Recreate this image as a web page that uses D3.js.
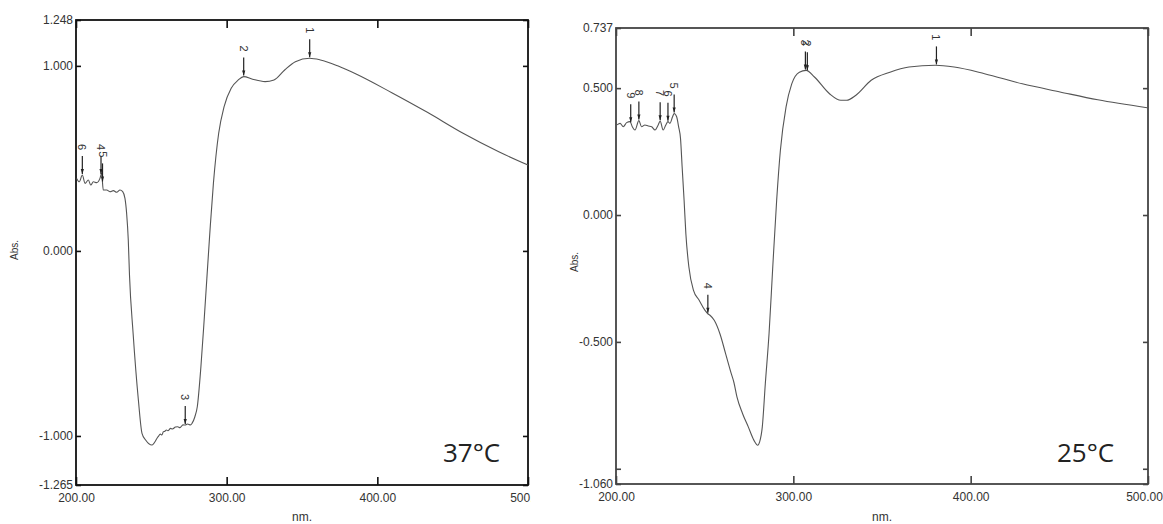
<!DOCTYPE html>
<html>
<head>
<meta charset="utf-8">
<script src="https://cdn.jsdelivr.net/npm/d3@7"></script>
<style>
  body { margin: 0; background: #fff; }
  svg { display: block; }
  .tick text { font-family: "Liberation Sans Narrow", "Liberation Sans", Arial, sans-serif; font-size: 12px; fill: #333; }
</style>
</head>
<body>
<svg id="chart" width="1163" height="524"></svg>
<script>
// 37°C spectrum (nm, Abs.)
var nm37  = [200.4,202.2,204.2,206,208.2,209.8,211.5,213.7,215.9,217,218.1,220.4,222.6,224.8,227,229.2,231,232.5,233.6,234.7,
             235.5,237.9,241.4,243.8,246.2,250.4,254.5,256,257,258,259,260,261,262.8,264,266,267.5,269,271,272.5,274,276,277,278.9,280.5,282.9,285.2,
             288.8,291.2,294.7,298.3,303,307.7,311.3,317.2,325.5,331.4,338.5,345.6,355.1,362.2,374,385.9,409.6,433.2,456.9,480.6,500];
var abs37 = [0.392,0.374,0.41,0.365,0.383,0.356,0.374,0.369,0.392,0.42,0.329,0.329,0.32,0.326,0.317,0.329,0.32,0.284,0.203,0.059,
             -0.13,-0.445,-0.806,-0.986,-1.022,-1.049,-1.004,-0.99,-0.995,-0.977,-0.975,-0.968,-0.972,-0.959,-0.962,-0.952,-0.95,-0.955,-0.94,-0.941,-0.935,-0.94,-0.932,-0.896,-0.842,-0.626,-0.356,
             0.095,0.365,0.636,0.78,0.879,0.924,0.942,0.928,0.915,0.924,0.978,1.023,1.041,1.032,0.999,0.956,0.855,0.749,0.636,0.536,0.464];
var peaks37 = [355.1, 311.3, 272.5, 216.6, 217.6, 204.2];
var peakLabels37 = ["1", "2", "3", "4", "5", "6"];
var yTicks37 = [-1.265, -1, 0, 1, 1.248];

// 25°C spectrum (nm, Abs.)
var nm25  = [200.6,202.3,204.1,206,207.9,209.2,210.7,212.9,214.4,216.3,218.2,220.1,222,223.8,224.9,226.6,228.1,229.3,230.4,231.9,232.8,234.2,235.3,
             236.4,237.3,238.4,239.4,241.1,243.7,246.9,250.1,251.8,253,255.4,258.6,261.8,265,266.5,268.2,271.4,274.6,277.8,279.9,281,282.5,284.2,286.3,288.4,290.6,
             292.7,295.9,299.1,303.4,307.2,311.9,320.4,326.8,330,335.3,343.9,354.5,365.2,380.1,390.7,407.8,429.1,450.4,471.7,499.5];
var abs25 = [0.355,0.361,0.348,0.364,0.368,0.348,0.335,0.372,0.348,0.355,0.351,0.348,0.335,0.355,0.37,0.335,0.355,0.368,0.361,0.387,0.4,0.387,0.348,
             0.3,0.189,0.058,-0.074,-0.205,-0.297,-0.336,-0.375,-0.389,-0.395,-0.415,-0.468,-0.546,-0.625,-0.66,-0.717,-0.783,-0.835,-0.888,-0.907,-0.894,-0.835,-0.665,-0.468,-0.205,0.058,
             0.255,0.426,0.517,0.563,0.57,0.544,0.478,0.452,0.452,0.472,0.531,0.563,0.583,0.59,0.583,0.557,0.517,0.485,0.454,0.423];
var peaks25 = [380.7, 307.9, 306.8, 251.8, 232.8, 229.3, 224.9, 212.9, 208.3];
var peakLabels25 = ["1", "2", "3", "4", "5", "6", "7", "8", "9"];
var yTicks25 = [-1.06, -1, -0.5, 0, 0.5, 0.737];

var xTicks = [200, 300, 400, 500];

var svg = d3.select("#chart");

function interp(xs, ys, v) {
  var i = d3.bisectLeft(xs, v);
  if (i <= 0) return ys[0];
  if (i >= xs.length) return ys[ys.length - 1];
  var t = (v - xs[i-1]) / (xs[i] - xs[i-1]);
  return ys[i-1] + t * (ys[i] - ys[i-1]);
}

function panel(o) {
  var x = d3.scaleLinear().domain([200, 500]).range(o.xr);
  var y = d3.scaleLinear().domain(o.yd).range(o.yr);
  var g = svg.append("g");
  if (o.clip) {
    svg.append("clipPath").attr("id", o.clip)
      .append("rect").attr("x", 0).attr("y", 0).attr("width", o.clipW).attr("height", 524);
    g.attr("clip-path", "url(#" + o.clip + ")");
  }
  var fmtY = function(d) { return d === -1 && o.hideMinus1 ? "" : d.toFixed(3); };

  g.append("g").attr("transform", "translate(" + o.xr[0] + ",0)")
    .call(d3.axisLeft(y).tickValues(o.yt).tickSize(-5).tickPadding(3).tickFormat(fmtY));
  g.append("g").attr("transform", "translate(" + o.xr[1] + ",0)")
    .call(d3.axisRight(y).tickValues(o.yt).tickSize(-5).tickFormat(""));
  var xb = g.append("g").attr("transform", "translate(0," + o.yr[0] + ")")
    .call(d3.axisBottom(x).tickValues(xTicks).tickSize(-8).tickPadding(8).tickFormat(d3.format(".2f")));
  g.append("g").attr("transform", "translate(0," + o.yr[1] + ")")
    .call(d3.axisTop(x).tickValues(xTicks).tickSize(-8).tickFormat(""));
  if (o.lastShift) xb.selectAll(".tick text").filter(function(d) { return d === 500; }).attr("dx", o.lastShift);
  g.selectAll(".domain").remove();
  g.selectAll(".tick line").attr("stroke", o.frame).attr("stroke-width", 1.6);

  g.append("rect")
    .attr("x", o.xr[0]).attr("y", o.yr[1])
    .attr("width", o.xr[1] - o.xr[0]).attr("height", o.yr[0] - o.yr[1])
    .attr("fill", "none").attr("stroke", o.frame).attr("stroke-width", 1.8);

  var pts = o.nm.map(function(d, i) { return [d, o.ab[i]]; });
  g.append("path").datum(pts)
    .attr("fill", "none").attr("stroke", "#555").attr("stroke-width", 1.1)
    .attr("d", d3.line().x(function(d) { return x(d[0]); }).y(function(d) { return y(d[1]); }).curve(d3.curveMonotoneX));

  // peak pick markers
  o.peaks.forEach(function(p, i) {
    var px = x(p), py = y(interp(o.nm, o.ab, p)) - 1;
    g.append("line").attr("x1", px).attr("x2", px).attr("y1", py - 18).attr("y2", py)
      .attr("stroke", "#222").attr("stroke-width", 1.2);
    g.append("path").attr("d", "M" + (px - 1.6) + "," + (py - 5) + "L" + (px + 1.6) + "," + (py - 5) + "L" + px + "," + py + "Z")
      .attr("fill", "#222");
    g.append("text").attr("transform", "translate(" + (px - 4) + "," + (py - 27) + ") rotate(90)")
      .attr("text-anchor", "middle")
      .style("font-family", "Liberation Sans, Arial, sans-serif").style("font-size", "11px").attr("fill", "#333")
      .text(o.labels[i]);
  });

  var midX = (o.xr[0] + o.xr[1]) / 2;
  g.append("text").attr("x", midX).attr("y", 521).attr("text-anchor", "middle")
    .style("font-family", "Liberation Sans Narrow, Liberation Sans, sans-serif").style("font-size", "12px").attr("fill", "#333")
    .text("nm.");
  svg.append("text").attr("transform", "translate(" + o.absX + "," + o.absY + ") rotate(-90)")
    .attr("text-anchor", "middle")
    .style("font-family", "Liberation Sans, Arial, sans-serif").style("font-size", "10px").attr("fill", "#333")
    .text("Abs.");
  svg.append("text").attr("x", o.tempX).attr("y", 462)
    .style("font-family", "Open Sans, Noto Sans, sans-serif").style("font-size", "26px").attr("fill", "#222")
    .text(o.temp);
}

panel({ nm: nm37, ab: abs37, peaks: peaks37, labels: peakLabels37, yt: yTicks37,
        xr: [76, 528], yd: [-1.265, 1.248], yr: [485, 20], frame: "#111",
        clip: "clipL", clipW: 531, absX: 18, absY: 250, tempX: 443, temp: "37°C" });
panel({ nm: nm25, ab: abs25, peaks: peaks25, labels: peakLabels25, yt: yTicks25,
        xr: [616, 1148], yd: [-1.06, 0.737], yr: [484, 28], frame: "#444", hideMinus1: true, lastShift: -4,
        absX: 578, absY: 262, tempX: 1057, temp: "25°C" });
</script>
</body>
</html>
